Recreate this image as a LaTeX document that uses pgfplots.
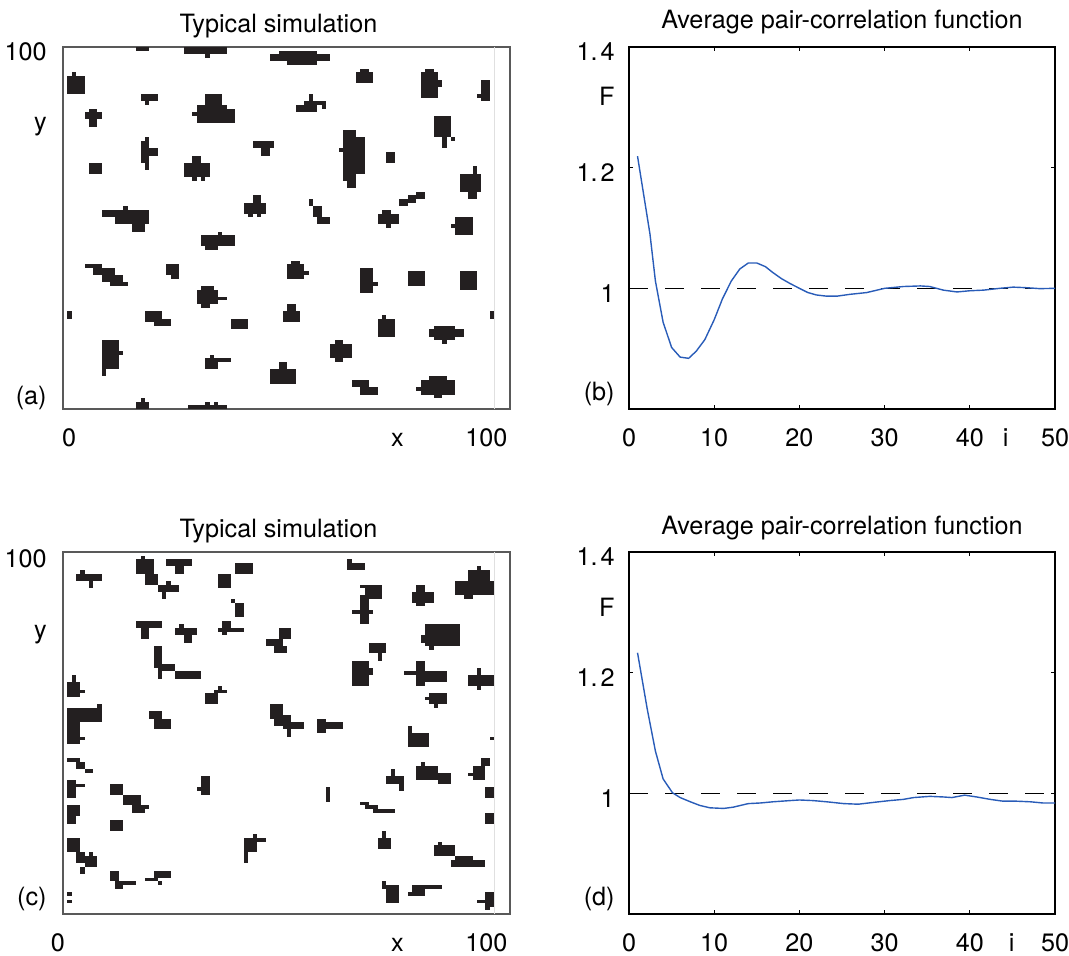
\documentclass[border=0pt]{standalone}
\usepackage{fontspec}
\setmainfont{TeX Gyre Heros}
\usepackage{pgfplots}
\pgfplotsset{compat=1.18}
\definecolor{cell}{HTML}{231F20}
\definecolor{fblue}{rgb}{0.16,0.36,0.72}
\newcommand{\R}[4]{\addplot[cl] coordinates {(#1,#2) (#3,#2) (#3,#4) (#1,#4)};}
\pgfplotsset{
  cl/.style={fill=cell, draw=none, forget plot},
  simax/.style={scale only axis, width=223.5pt, height=181pt,
    xmin=0, xmax=103.7, ymin=0, ymax=100,
    axis line style={draw=black!65, line width=0.65pt},
    major tick length=0pt, tick style={draw=none},
    every axis title/.style={at={(0.482,1)}, anchor=base, yshift=7.25pt, font=\fontsize{12.6}{14}\selectfont},
    xticklabel style={anchor=base, inner sep=0pt, yshift=-18.75pt},
    yticklabel style={anchor=east, inner sep=0pt, xshift=-8pt},
    tick label style={font=\fontsize{12.6}{14}\selectfont}},
  pcax/.style={scale only axis, width=213pt, height=181pt,
    xmin=0, xmax=50, ymin=0.8, ymax=1.4,
    axis line style={line width=0.9pt},
    tick align=inside, major tick length=2.2pt, tick style={black, line width=0.6pt},
    every axis title/.style={at={(0.5,1)}, anchor=base, yshift=9pt, font=\fontsize{12.6}{14}\selectfont},
    xtick={0,10,20,30,40,50}, xticklabels={0,10,20,30,40,50},
    ytick={1,1.2,1.4}, yticklabels={1,1.\kern1.5pt2,1.\kern1.5pt4},
    extra x tick style={major tick length=0pt},
    extra y tick style={major tick length=0pt},
    xticklabel style={anchor=base, inner sep=0pt, yshift=-18.75pt},
    yticklabel style={anchor=east, inner sep=0pt, xshift=-7pt, yshift=-2.5pt},
    tick label style={font=\fontsize{12.6}{14}\selectfont}},
}
\begin{document}
\begin{tikzpicture}
\useasboundingbox (0,0) rectangle (534.5pt,477.5pt);
% ---------------- (a)
\begin{axis}[simax, at={(31.5pt,273pt)}, anchor=south west,
  title={Typical simulation},
  xtick={1.4,77.6,98.2}, xticklabels={0,x,100},
  ytick={3,78,98.6}, yticklabels={(a),y,100}]
\addplot[draw=black!12, line width=0.5pt, forget plot] coordinates {(100,0) (100,100)};
\R{17}{99}{20}{100}
\R{28}{98}{38}{100} \R{33}{97}{34}{98}
\R{48}{96}{62}{98} \R{50}{98}{59}{99} \R{52}{95}{59}{96}
\R{68}{90}{72}{93} \R{69}{93}{71}{94}
\R{83}{86}{87}{93} \R{84}{93}{86}{94} \R{87}{89}{88}{91}
\R{97}{85}{99}{91} \R{96}{86}{97}{87}
\R{1}{87}{5}{92} \R{2}{92}{3}{93}
\R{18}{85}{22}{87} \R{19}{84}{20}{85}
\R{31}{79}{38}{84} \R{33}{84}{37}{87} \R{38}{79}{40}{83} \R{30}{81}{31}{82}
\R{54}{82}{59}{84} \R{56}{84}{60}{85} \R{57}{85}{58}{87} \R{60}{83}{61}{85}
\R{5}{80}{9}{82} \R{6}{78}{8}{83}
\R{86}{75}{90}{81} \R{90}{74}{91}{75} \R{88}{72}{89}{75}
\R{18}{68}{20}{74} \R{19}{74}{20}{75} \R{20}{70}{22}{72} \R{19}{66}{20}{68}
\R{44}{72}{49}{74} \R{46}{70}{48}{72}
\R{65}{63}{68}{77} \R{68}{65}{70}{75} \R{64}{71}{65}{72} \R{66}{61}{68}{63}
\R{75}{68}{77}{71}
\R{6}{65}{9}{68}
\R{28}{64}{34}{68} \R{30}{68}{32}{70} \R{30}{63}{31}{64} \R{32}{63}{33}{64}
\R{92}{60}{97}{65} \R{95}{65}{96}{67} \R{94}{58}{96}{60}
\R{78}{56}{80}{58} \R{80}{57}{82}{59} \R{82}{58}{84}{60}
\R{9}{53}{20}{55} \R{12}{51}{20}{53} \R{16}{49}{19}{51} \R{14}{55}{15}{56}
\R{42}{54}{47}{57} \R{44}{57}{46}{59} \R{43}{53}{44}{54} \R{45}{53}{46}{54}
\R{57}{56}{58}{58} \R{58}{53}{60}{56} \R{59}{51}{62}{53}
\R{73}{51}{78}{54} \R{75}{50}{76}{51} \R{74}{54}{76}{55}
\R{91}{48}{95}{53} \R{90}{50}{91}{51}
\R{32}{45}{40}{48} \R{36}{48}{37}{49} \R{33}{44}{36}{45}
\R{5}{39}{9}{40} \R{7}{37}{12}{39} \R{9}{35}{14}{37} \R{11}{34}{15}{35}
\R{24}{37}{27}{40} \R{25}{36}{27}{37}
\R{52}{36}{56}{40} \R{53}{40}{55}{41} \R{56}{37}{57}{38}
\R{69}{32}{72}{39} \R{72}{34}{73}{35}
\R{80}{34}{84}{38}
\R{92}{33}{96}{38}
\R{31}{29}{36}{33} \R{32}{33}{35}{34} \R{36}{30}{38}{31} \R{32}{28}{34}{29}
\R{19}{24}{23}{27} \R{21}{23}{25}{25}
\R{39}{22}{43}{25}
\R{51}{24}{55}{27} \R{52}{27}{54}{29}
\R{1}{25}{2}{27}
\R{99}{25}{100}{27}
\R{73}{20}{77}{25} \R{74}{25}{75}{26}
\R{85}{20}{93}{22} \R{86}{19}{91}{20} \R{88}{18}{89}{19} \R{86}{22}{91}{23}
\R{62}{14}{67}{18} \R{63}{18}{65}{19} \R{63}{13}{65}{14}
\R{9}{11}{13}{19} \R{13}{15}{14}{16} \R{9}{9}{10}{11}
\R{33}{11}{36}{14} \R{36}{13}{39}{14} \R{34}{14}{35}{15}
\R{48}{7}{54}{11} \R{50}{11}{52}{13}
\R{67}{6}{71}{8} \R{69}{4}{73}{6}
\R{83}{4}{91}{8} \R{85}{8}{89}{9} \R{86}{3}{88}{4} \R{82}{5}{83}{6}
\R{17}{0}{20}{2} \R{18}{2}{19}{3}
\R{29}{0}{38}{1} \R{33}{1}{34}{2} \R{35}{1}{36}{2}
\end{axis}
% ---------------- (b)
\begin{axis}[pcax, at={(314.5pt,273pt)}, anchor=south west,
  title={Average pair-correlation function},
  extra x ticks={44.2}, extra x tick labels={i},
  extra y ticks={0.834,1.327}, extra y tick labels={(b),F}]
\addplot[black, line width=0.6pt, dash pattern=on 9.5pt off 8.5pt, forget plot] coordinates {(0,1) (50,1)};
\addplot[fblue, line width=0.7pt, forget plot] coordinates {
(1.0,1.219)(2.46,1.09)(3.1,1.012)(4.0,0.944)(5.0,0.902)(6.0,0.886)(7.0,0.884)(7.9,0.896)(8.9,0.915)(10,0.948)(10.95,0.982)(12,1.012)(13,1.032)(14,1.042)(15,1.042)(16,1.036)(16.9,1.026)(17.9,1.016)(18.9,1.008)(20,1.0)(21,0.993)(22,0.989)(23.2,0.987)(24.4,0.987)(25.9,0.99)(27.9,0.993)(30,1.0)(32.2,1.003)(34.2,1.004)(35.3,1.003)(36.9,0.997)(38.5,0.994)(40,0.996)(41.6,0.997)(43.5,1.0)(45.1,1.002)(46.7,1.001)(48.2,0.9995)(50,1.0)};
\end{axis}
% ---------------- (c)
\begin{axis}[simax, at={(31.5pt,20.5pt)}, anchor=south west,
  title={Typical simulation},
  xtick={0,77.6,98.2}, xticklabels={\hspace*{-5.2pt}0,x,100},
  ytick={4.1,77.2,98.1}, yticklabels={(c),y,100}]
\addplot[draw=black!12, line width=0.5pt, forget plot] coordinates {(100,0) (100,100)};
\R{3}{92}{9}{94} \R{4}{94}{5}{95} \R{6}{90}{7}{92}
\R{17}{94}{21}{98} \R{18}{98}{19}{99} \R{19}{91}{22}{94}
\R{22}{89}{27}{91} \R{23}{87}{24}{89} \R{24}{91}{25}{92}
\R{24}{96}{30}{98} \R{26}{94}{28}{96}
\R{36}{90}{39}{94}
\R{40}{94}{44}{97}
\R{40}{82}{42}{86} \R{39}{86}{40}{87}
\R{17}{79}{23}{81} \R{18}{76}{20}{79}
\R{26}{77}{31}{79} \R{28}{75}{30}{77} \R{27}{79}{28}{80}
\R{36}{78}{42}{79} \R{37}{79}{39}{81} \R{37}{77}{38}{78}
\R{47}{74}{51}{76} \R{50}{76}{53}{79} \R{49}{72}{52}{74}
\R{66}{95}{70}{97} \R{66}{97}{67}{98}
\R{70}{87}{74}{91} \R{69}{90}{70}{91}
\R{69}{80}{71}{88} \R{67}{83}{72}{84}
\R{81}{86}{86}{89} \R{82}{85}{84}{91}
\R{91}{88}{100}{92} \R{94}{92}{99}{95} \R{96}{95}{97}{96} \R{93}{87}{95}{88}
\R{84}{74}{92}{80} \R{83}{75}{84}{77} \R{85}{73}{86}{74}
\R{71}{72}{75}{75} \R{73}{70}{74}{72}
\R{21}{68}{23}{74} \R{23}{67}{26}{69} \R{22}{65}{23}{68}
\R{26}{65}{32}{67}
\R{67}{63}{71}{70} \R{71}{66}{72}{68}
\R{79}{66}{89}{67} \R{82}{63}{84}{70} \R{84}{64}{89}{66}
\R{94}{63}{100}{66} \R{96}{62}{97}{68}
\R{85}{58}{89}{61} \R{84}{59}{85}{60} \R{86}{57}{87}{58}
\R{1}{60}{4}{64} \R{2}{64}{3}{66} \R{4}{61}{5}{62}
\R{33}{58}{36}{61} \R{35}{61}{38}{62} \R{36}{62}{37}{63}
\R{1}{53}{8}{57} \R{8}{53}{9}{58} \R{1}{47}{4}{53} \R{4}{48}{5}{49}
\R{21}{51}{25}{54} \R{20}{54}{23}{56}
\R{48}{54}{51}{58} \R{49}{52}{53}{55} \R{51}{51}{56}{53} \R{52}{49}{53}{51}
\R{59}{50}{61}{54} \R{61}{51}{65}{53}
\R{80}{46}{85}{50} \R{80}{50}{81}{52}
\R{99}{48}{100}{49}
\R{1}{42}{4}{43} \R{3}{40}{5}{42} \R{5}{39}{7}{40}
\R{1}{32}{3}{37} \R{3}{35}{5}{36}
\R{1}{25}{3}{30} \R{3}{27}{4}{30}
\R{11}{33}{14}{36} \R{14}{30}{18}{33} \R{16}{28}{19}{30} \R{18}{29}{20}{30}
\R{11}{23}{14}{26}
\R{32}{33}{34}{38} \R{31}{34}{32}{35}
\R{61}{31}{62}{35}
\R{75}{36}{79}{38} \R{76}{38}{77}{40} \R{78}{34}{79}{36}
\R{82}{37}{87}{41} \R{87}{36}{90}{39} \R{83}{41}{84}{42}
\R{95}{37}{98}{41} \R{97}{41}{99}{43} \R{94}{38}{95}{39}
\R{98}{32}{100}{35}
\R{98}{25}{100}{28}
\R{69}{30}{71}{31} \R{70}{29}{73}{30} \R{72}{28}{77}{29}
\R{73}{18}{76}{21} \R{74}{21}{75}{23}
\R{86}{16}{91}{19} \R{87}{19}{88}{20} \R{90}{13}{98}{15} \R{91}{15}{95}{16}
\R{42}{17}{45}{21} \R{45}{20}{47}{21} \R{42}{14}{43}{17} \R{44}{21}{45}{22}
\R{1}{17}{4}{21} \R{3}{14}{5}{17} \R{5}{13}{8}{16} \R{4}{11}{5}{13} \R{6}{16}{7}{17}
\R{11}{9}{13}{12} \R{12}{7}{14}{9} \R{14}{8}{17}{9}
\R{19}{9}{22}{10} \R{21}{10}{25}{12} \R{22}{8}{23}{9}
\R{1}{3}{2}{4} \R{1}{5}{2}{6}
\R{75}{3}{78}{8} \R{74}{7}{75}{9}
\R{81}{5}{84}{8} \R{84}{7}{88}{8} \R{80}{5}{81}{6}
\R{98}{2}{100}{6} \R{96}{3}{98}{4} \R{98}{1}{99}{2}
\end{axis}
% ---------------- (d)
\begin{axis}[pcax, at={(314.5pt,20.5pt)}, anchor=south west,
  title={Average pair-correlation function},
  extra x ticks={44.9}, extra x tick labels={i},
  extra y ticks={0.833,1.317}, extra y tick labels={(d),F}]
\addplot[black, line width=0.6pt, dash pattern=on 9.5pt off 8.5pt, forget plot] coordinates {(0,1) (50,1)};
\addplot[fblue, line width=0.7pt, forget plot] coordinates {
(1.0,1.233)(2.15,1.139)(3.1,1.07)(4.0,1.024)(5.1,1.001)(6.0,0.993)(7.2,0.986)(8.3,0.98)(9.5,0.976)(11.1,0.975)(12.2,0.977)(14.0,0.983)(15.4,0.984)(16.9,0.986)(18.9,0.988)(20,0.989)(21.6,0.988)(23.2,0.986)(25.2,0.983)(26.9,0.982)(28.7,0.985)(30.6,0.988)(32.2,0.99)(33.4,0.993)(35.3,0.995)(36.9,0.994)(37.9,0.993)(39.4,0.997)(40.8,0.994)(42.4,0.99)(43.9,0.987)(45.5,0.987)(47.1,0.986)(48.6,0.984)(50,0.984)};
\end{axis}
\end{tikzpicture}
\end{document}
